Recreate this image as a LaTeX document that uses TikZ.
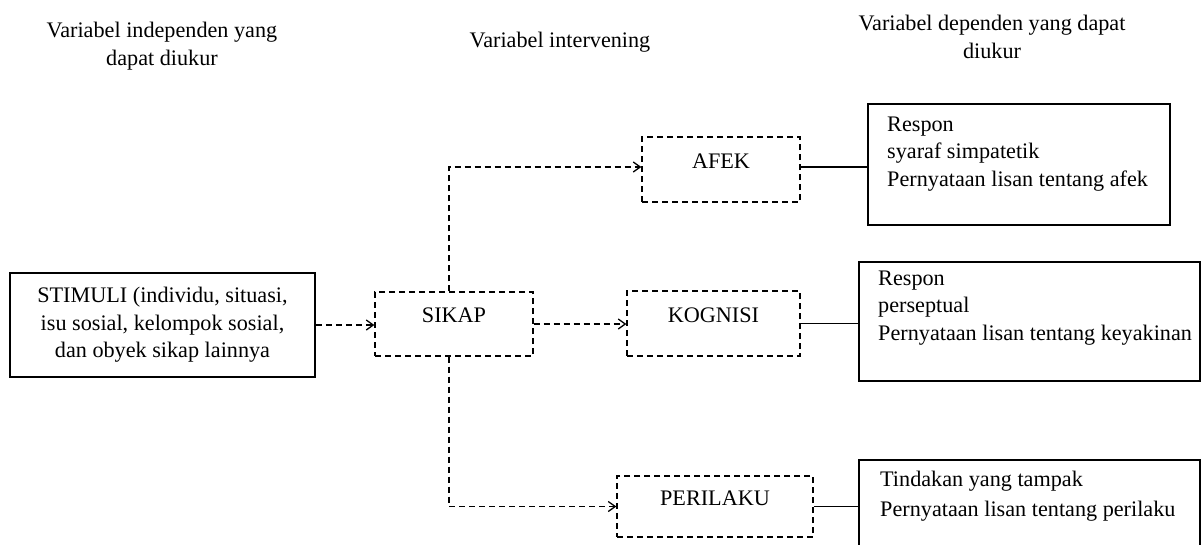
\documentclass[tikz,border=0pt]{standalone}
\usepackage{fontspec}
\setmainfont{Liberation Serif}
\usetikzlibrary{arrows.meta}
\begin{document}
\begin{tikzpicture}[x=1pt,y=-1pt,
  txt/.style={font=\fontsize{22.2}{27.5}\selectfont},
  solidbox/.style={draw, line width=1.5pt, inner sep=0pt},
  dashbox/.style={draw, line width=1.3pt, dash pattern=on 6pt off 4pt, inner sep=0pt,
    font=\fontsize{22.2}{27.5}\selectfont, text height=15pt, text depth=18pt},
  dasharrow/.style={line width=1.3pt, dash pattern=on 6pt off 4pt,
    -{Straight Barb[length=7pt,width=10pt]}},
  link/.style={line width=1.5pt},
  head/.style={font=\fontsize{22.2}{28}\selectfont, align=center, inner sep=0pt},
  resptext/.style={anchor=west, align=left, inner sep=0pt}
]
\useasboundingbox (0,0) rectangle (1202,544);

% headers
\node[head] (h1) at (162,46) {Variabel independen yang\\dapat diukur};
\node[head] (h2) at (560,42) {Variabel intervening};
\node[head] (h3) at (992,36.5) {Variabel dependen yang dapat\\diukur};

% stimulus
\node[solidbox, txt, align=center, minimum width=305pt, minimum height=104pt] (stim) at (162.5,325)
  {STIMULI (individu, situasi,\\isu sosial, kelompok sosial,\\dan obyek sikap lainnya};

% intervening
\node[dashbox, minimum width=158pt, minimum height=64pt] (sikap) at (454,324) {SIKAP};
\node[dashbox, minimum width=158pt, minimum height=65pt] (afek) at (721,169.5) {AFEK};
\node[dashbox, minimum width=173pt, minimum height=65pt] (kog) at (713.5,323.5) {KOGNISI};
\node[dashbox, minimum width=196pt, minimum height=61pt] (peril) at (715,506.5) {PERILAKU};

% responses
\node[solidbox, minimum width=302pt, minimum height=121pt] (r1) at (1019,164.5) {};
\node[solidbox, minimum width=341pt, minimum height=119pt] (r2) at (1029.5,321.5) {};
\node[solidbox, minimum width=341pt, minimum height=100pt] (r3) at (1029.5,510) {};

\node[txt, resptext] (r1t) at (887,154) {Respon\\syaraf simpatetik\\Pernyataan lisan tentang afek};
\node[txt, resptext] (r2t) at (878,308) {Respon\\perseptual\\Pernyataan lisan tentang keyakinan};
\node[resptext, font=\fontsize{22.2}{30}\selectfont] (r3t) at (880,496) {Tindakan yang tampak\\Pernyataan lisan tentang perilaku};

% connectors
\draw[dasharrow] (stim.east) -- (stim.east -| sikap.west);
\draw[dasharrow] (sikap.east) -- (sikap.east -| kog.west);
\draw[dasharrow] ([xshift=-5pt]sikap.north) |- ([yshift=2.5pt]afek.west);
\draw[dasharrow] ([xshift=-5pt]sikap.south) |- (peril.west);
\draw[link] ([yshift=2.5pt]afek.east) -- ([yshift=2.5pt]afek.east -| r1.west);
\draw[link] (kog.east) -- (kog.east -| r2.west);
\draw[link] (peril.east) -- (peril.east -| r3.west);
\end{tikzpicture}
\end{document}
